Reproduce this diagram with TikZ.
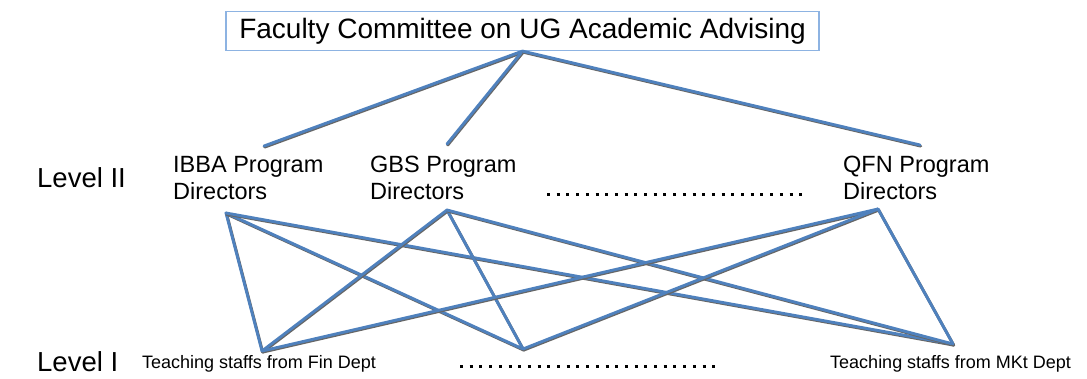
\documentclass[tikz,border=0pt]{standalone}
\usepackage{fontspec}
\setmainfont{Liberation Sans}
\definecolor{linkblue}{RGB}{79,129,189}
\definecolor{boxblue}{RGB}{141,179,226}
\begin{document}
\begin{tikzpicture}[x=1pt,y=-1pt,
  link/.style={draw=linkblue, line width=2.9pt, line cap=round,
    preaction={draw=black!60, line width=2.9pt, line cap=round, transform canvas={shift={(0.7pt,-1.1pt)}}}},
  lvl/.style={anchor=base west, inner sep=0pt, font=\fontsize{27.5}{30}\selectfont},
  prog/.style={anchor=base west, inner sep=0pt, align=left, font=\fontsize{23.5}{27}\selectfont},
  staff/.style={anchor=base west, inner sep=0pt, font=\fontsize{18}{20}\selectfont},
  dotrow/.style={line width=3pt, dash pattern=on 3pt off 6.7pt}
]
\useasboundingbox (0,0) rectangle (1087,378);
\node[draw=boxblue, line width=1.2pt, minimum width=593pt, minimum height=39pt, inner sep=0pt,
  font=\fontsize{28}{30}\selectfont] (fc) at (522.5,31) {Faculty Committee on UG Academic Advising};

\node[lvl] (l2) at (37,187) {Level II};
\node[lvl] (l1) at (37,371) {Level I};

\node[prog] (ibba) at (173,199) {IBBA Program\\Directors};
\node[prog] (gbs) at (370,199) {GBS Program\\Directors};
\node[prog] (qfn) at (843,199) {QFN Program\\Directors};

\node[staff] (fin) at (142,368) {Teaching staffs from Fin Dept};
\node[staff] (mkt) at (830,368) {Teaching staffs from MKt Dept};

\coordinate (ibbaT) at (264,146);
\coordinate (gbsT) at (447,144);
\coordinate (qfnT) at (920,145);
\coordinate (ibbaB) at (226,213);
\coordinate (gbsB) at (447,210);
\coordinate (qfnB) at (878,209);
\coordinate (finT) at (262,351);
\coordinate (midT) at (523,349);
\coordinate (mktT) at (953,344);

\draw[link] (fc.south) -- (ibbaT);
\draw[link] (fc.south) -- (gbsT);
\draw[link] (fc.south) -- (qfnT);
\foreach \s in {ibbaB,gbsB,qfnB}{
  \foreach \t in {finT,midT,mktT}{
    \draw[link] (\s) -- (\t);
  }
}

\coordinate (d2a) at (547,194);
\coordinate (d2b) at (805,194);
\coordinate (d1a) at (460,366);
\coordinate (d1b) at (716,366);
\draw[dotrow] (d2a) -- (d2b);
\draw[dotrow] (d1a) -- (d1b);
\end{tikzpicture}
\end{document}
